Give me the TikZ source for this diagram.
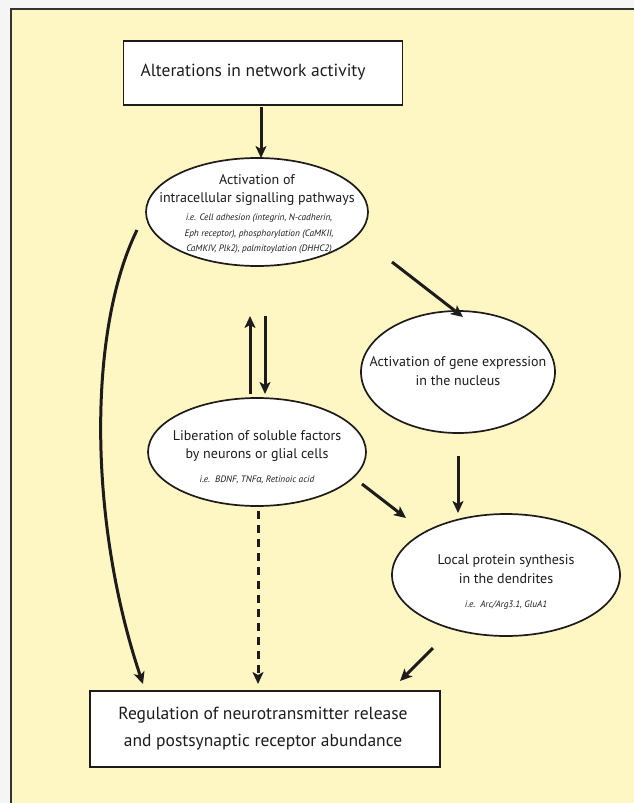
\documentclass[tikz,border=0pt]{standalone}
\usepackage{fontspec}
\setmainfont{PT Sans}
\newfontfamily\grk{Open Sans}
\usetikzlibrary{arrows.meta,shapes.geometric}
\definecolor{bgyellow}{HTML}{FFF7C3}
\definecolor{framegray}{HTML}{333333}
\definecolor{ink}{HTML}{1E1B1C}
\begin{document}
\begin{tikzpicture}[x=1pt,y=-1pt,
  arr/.style={line width=3pt,ink,-{Stealth[length=12pt,width=11pt,inset=3pt]}},
  dasharr/.style={arr,dash pattern=on 8pt off 6pt},
  oval/.style={ellipse,draw=ink,line width=1.7pt,fill=white,inner sep=0pt},
  rbox/.style={rectangle,draw=ink,line width=1.7pt,fill=white,inner sep=0pt},
  main/.style={align=center,text=ink,font=\fontsize{14}{18.5}\selectfont},
  big/.style={align=center,text=ink,font=\fontsize{17.5}{27}\selectfont},
  small/.style={align=center,text=ink,font=\fontsize{9.3}{15.5}\selectfont\itshape}]
\useasboundingbox (0,0) rectangle (634,803);
\fill[white!96!black] (0,0) rectangle (634,803);
\fill[bgyellow] (11,9) rectangle (634,803);
\draw[line width=2pt,framegray] (11,803) -- (11,9) -- (634,9);

% nodes
\node[rbox,minimum width=279pt,minimum height=64pt] (b1) at (263,73) {};
\node[big,anchor=west] (t1) at (137,72) {Alterations in network activity};

\node[oval,minimum width=222pt,minimum height=108pt] (e1) at (257,212) {};
\node[main] (t2) at (257,190) {Activation of\\intracellular signalling pathways};
\node[small] (t2s) at (259,234) {i.e. Cell adhesion (integrin, N-cadherin,\\Eph receptor), phosphorylation (CaMKII,\\CaMKIV, Plk2), palmitoylation (DHHC2)};

\node[oval,minimum width=194pt,minimum height=122pt] (e2) at (458,372) {};
\node[main] (t3) at (458,371) {Activation of gene expression\\in the nucleus};

\node[oval,minimum width=218pt,minimum height=108pt] (e3) at (257,452) {};
\node[main] (t4) at (257,446) {Liberation of soluble factors\\by neurons or glial cells};
\node[small] (t4s) at (257,480) {i.e.\ \ BDNF, TNF{\grk α}, Retinoic acid};

\node[oval,minimum width=228pt,minimum height=122pt] (e4) at (506,575) {};
\node[main] (t5) at (506,569) {Local protein synthesis\\in the dendrites};
\node[small] (t5s) at (506,605) {i.e.\ \ Arc/Arg3.1, GluA1};

\node[rbox,minimum width=350pt,minimum height=76pt] (b2) at (265,729) {};
\node[big] (t6) at (263,729) {Regulation of neurotransmitter release\\and postsynaptic receptor abundance};

% arrow end points
\coordinate (a1s) at (261,107);  \coordinate (a1e) at (261,158);
\coordinate (a2s) at (392,262);  \coordinate (a2e) at (463,317);
\coordinate (upS) at (250,394);  \coordinate (upE) at (250,316);
\coordinate (dnS) at (265,316);  \coordinate (dnE) at (265,394);
\coordinate (a3s) at (458,456);  \coordinate (a3e) at (458,513);
\coordinate (a4s) at (362,484);  \coordinate (a4e) at (406,518);
\coordinate (a5s) at (258,511);  \coordinate (a5e) at (258,684);
\coordinate (a6s) at (433,648);  \coordinate (a6e) at (400,681);
\coordinate (a7s) at (137,230);  \coordinate (a7e) at (143,684);

\draw[arr] (a1s) -- (a1e);
\draw[arr] (a2s) -- (a2e);
\draw[arr] (upS) -- (upE);
\draw[arr] (dnS) -- (dnE);
\draw[arr] (a3s) -- (a3e);
\draw[arr] (a4s) -- (a4e);
\draw[dasharr] (a5s) -- (a5e);
\draw[arr] (a6s) -- (a6e);
\draw[arr] (a7s) .. controls (88,330) and (88,520) .. (a7e);
\end{tikzpicture}
\end{document}
